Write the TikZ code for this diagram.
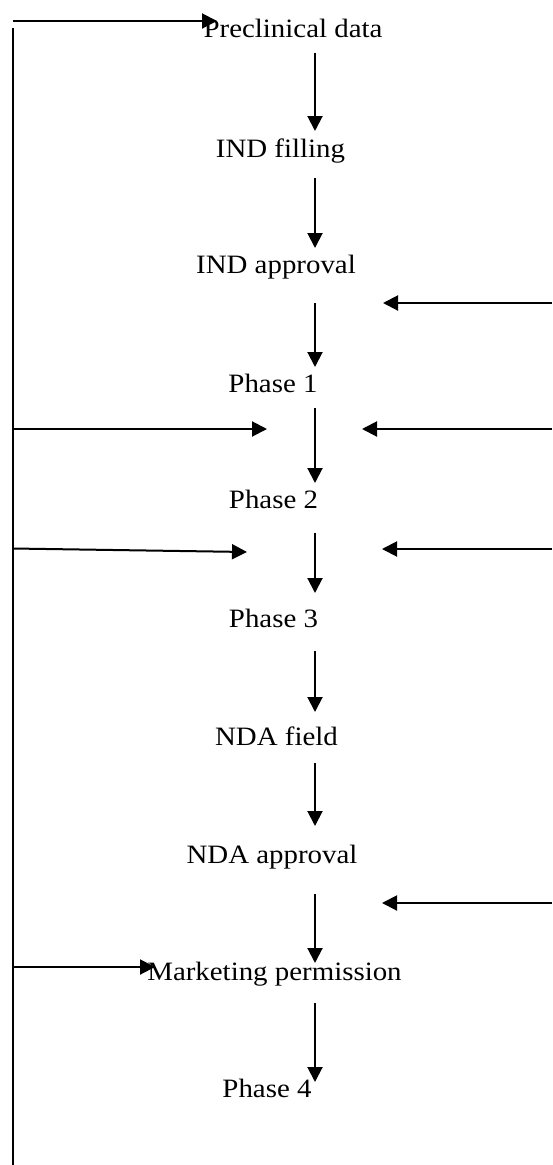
\documentclass[tikz,border=0pt]{standalone}
\usepackage{fontspec}
\setmainfont[FakeStretch=1.09]{Liberation Serif}
\usetikzlibrary{arrows.meta}

\tikzset{
  stage/.style={inner sep=0pt, anchor=base, font=\fontsize{26.5}{30}\selectfont},
  flow/.style={line width=2pt, -{Triangle[length=15pt,width=15pt]}},
  rail/.style={line width=2pt}
}

\begin{document}
\begin{tikzpicture}[x=1pt, y=-1pt]
\useasboundingbox (0,0) rectangle (552,1165);

% stages of the pipeline
\node[stage] (pre)  at (293,37)    {Preclinical data};
\node[stage] (indf) at (280.5,157) {IND filling};
\node[stage] (inda) at (276,273)   {IND approval};
\node[stage] (ph1)  at (273,392)   {Phase 1};
\node[stage] (ph2)  at (273.5,508) {Phase 2};
\node[stage] (ph3)  at (273.5,627) {Phase 3};
\node[stage] (ndaf) at (276.5,745) {NDA field};
\node[stage] (ndaa) at (272,863)   {NDA approval};
\node[stage] (mkt)  at (274.5,980) {Marketing permission};
\node[stage] (ph4)  at (267,1097)  {Phase 4};

% ends of the downward arrows in the central column
\coordinate (d1s) at (315,53);   \coordinate (d1e) at (315,131);
\coordinate (d2s) at (315,178);  \coordinate (d2e) at (315,248);
\coordinate (d3s) at (315,303);  \coordinate (d3e) at (315,367);
\coordinate (d4s) at (315,408);  \coordinate (d4e) at (315,483);
\coordinate (d5s) at (315,533);  \coordinate (d5e) at (315,593);
\coordinate (d6s) at (315,651);  \coordinate (d6e) at (315,712);
\coordinate (d7s) at (315,763);  \coordinate (d7e) at (315,826);
\coordinate (d8s) at (315,894);  \coordinate (d8e) at (315,963);
\coordinate (d9s) at (315,1003); \coordinate (d9e) at (315,1082);

\foreach \i in {1,...,9} \draw[flow] (d\i s) -- (d\i e);

% feedback rail on the left
\coordinate (railtop) at (13,28);
\coordinate (railbot) at (13,1165);
\draw[rail] (railtop) -- (railbot);

\coordinate (l0s) at (13,21);    \coordinate (l0e) at (217,21);
\coordinate (l1s) at (13,429);   \coordinate (l1e) at (267,429);
\coordinate (l2s) at (13,548.5); \coordinate (l2e) at (247,552);
\coordinate (l3s) at (13,967);   \coordinate (l3e) at (155,967);
\foreach \i in {0,...,3} \draw[flow] (l\i s) -- (l\i e);

% inputs entering from the right
\coordinate (r1s) at (552,303); \coordinate (r1e) at (383,303);
\coordinate (r2s) at (552,429); \coordinate (r2e) at (362,429);
\coordinate (r3s) at (552,549); \coordinate (r3e) at (382,549);
\coordinate (r4s) at (552,903); \coordinate (r4e) at (382,903);
\foreach \i in {1,...,4} \draw[flow] (r\i s) -- (r\i e);

\end{tikzpicture}
\end{document}
